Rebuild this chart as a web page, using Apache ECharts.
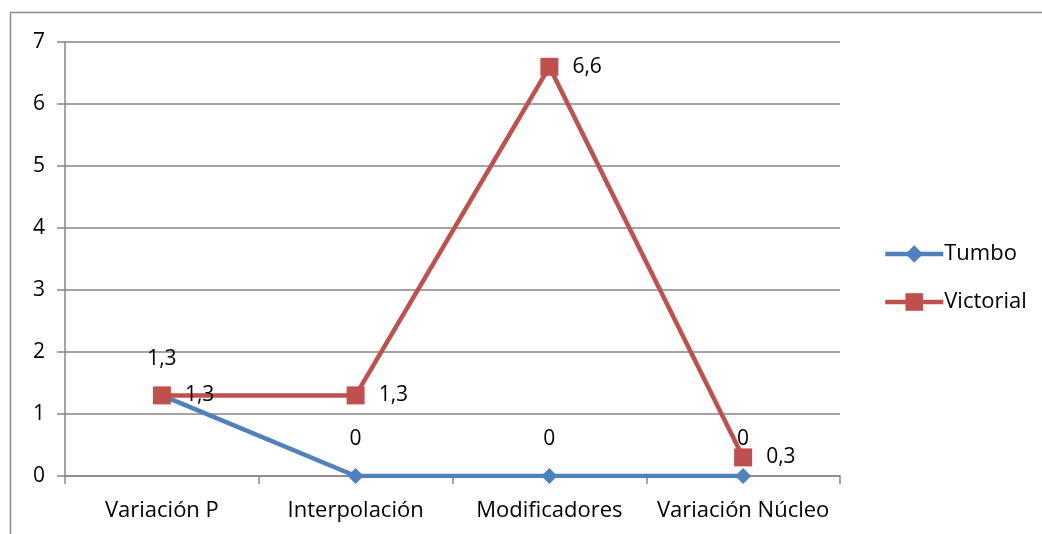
<!DOCTYPE html>
<html><head><meta charset="utf-8">
<script src="https://cdn.jsdelivr.net/npm/echarts@6/dist/echarts.min.js"></script>
<style>html,body{margin:0;padding:0;background:#fff}#c{width:1042px;height:534px}</style>
</head><body><div id="c"></div>
<script>
const categories = ['Variación P', 'Interpolación', 'Modificadores', 'Variación Núcleo'];
const tumbo = [1.3, 0, 0, 0];
const victorial = [1.3, 1.3, 6.6, 0.3];
const yTicks = [0, 1, 2, 3, 4, 5, 6, 7];

const fmt = p => String(p.value).replace('.', ',');
const font = 'Open Sans';
const fs = 21;
const chart = echarts.init(document.getElementById('c'), null, {renderer: 'canvas'});
chart.setOption({
  animation: false,
  textStyle: {fontFamily: font},
  graphic: [{type: 'rect', shape: {x: 10.5, y: 12.5, width: 1200, height: 700}, style: {fill: 'none', stroke: '#8c8c8c', lineWidth: 1.5}, silent: true}],
  grid: {left: 65, right: 202, top: 42, bottom: 58},
  legend: {
    orient: 'vertical', left: 878, top: 238, itemGap: 26,
    itemWidth: 58, itemHeight: 22,
    textStyle: {fontFamily: font, fontSize: 22, color: '#000', padding: [0, 0, 0, -4]},
    data: [
      {name: 'Tumbo', lineStyle: {width: 4.5}},
      {name: 'Victorial', lineStyle: {width: 4.5}}
    ]
  },
  xAxis: {
    type: 'category', data: categories, boundaryGap: true,
    axisLine: {lineStyle: {color: '#868686', width: 1.5}},
    axisTick: {show: true, length: 8, lineStyle: {color: '#868686', width: 1.5}},
    axisLabel: {color: '#000', fontSize: 22, margin: 24, interval: 0, fontFamily: font}
  },
  yAxis: {
    type: 'value', min: yTicks[0], max: yTicks[yTicks.length - 1], interval: 1,
    axisLine: {show: true, lineStyle: {color: '#868686', width: 1.5}},
    axisTick: {show: true, length: 8, lineStyle: {color: '#868686', width: 1.5}},
    splitLine: {lineStyle: {color: '#868686', width: 1.5}},
    axisLabel: {color: '#000', fontSize: fs, margin: 20, fontFamily: font}
  },
  series: [
    {
      name: 'Tumbo', type: 'line', data: tumbo,
      symbol: 'diamond', symbolSize: 16,
      lineStyle: {color: '#4F81BD', width: 4.5},
      itemStyle: {color: '#4F81BD'},
      label: {show: true, position: 'top', distance: 18, formatter: fmt, color: '#000', fontSize: fs, fontFamily: font},
      labelLayout: {hideOverlap: false},
      z: 2
    },
    {
      name: 'Victorial', type: 'line', data: victorial,
      symbol: 'rect', symbolSize: 18,
      lineStyle: {color: '#C0504D', width: 4.5},
      itemStyle: {color: '#C0504D'},
      label: {show: true, position: 'right', distance: 14, formatter: fmt, color: '#000', fontSize: fs, fontFamily: font},
      z: 3
    }
  ]
});
</script></body></html>
